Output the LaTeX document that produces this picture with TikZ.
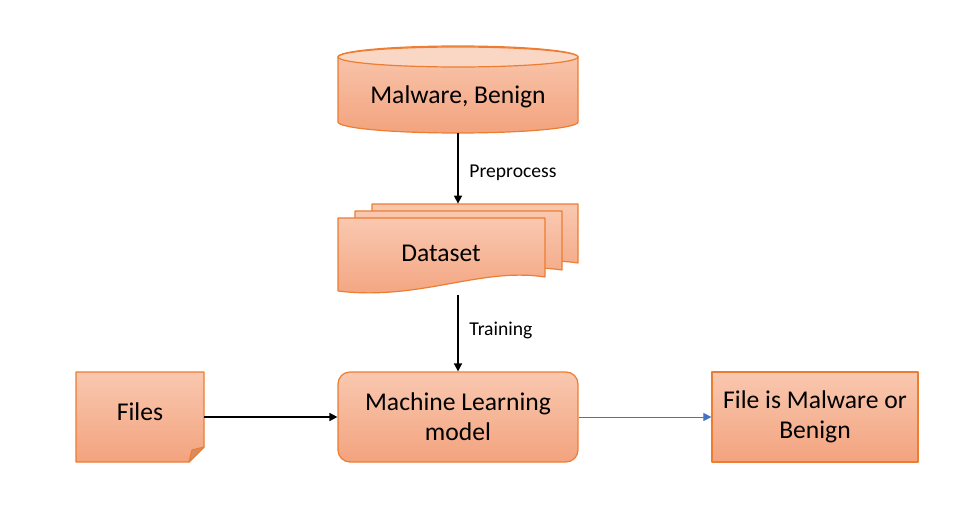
\documentclass[tikz,border=0pt]{standalone}
\usepackage{fontspec}
\setmainfont{Carlito}
\usepackage{xcolor}
\usetikzlibrary{arrows.meta}
\definecolor{shtop}{RGB}{249,200,176}
\definecolor{shbot}{RGB}{243,163,126}
\definecolor{shedge}{RGB}{237,125,49}
\definecolor{shlid}{RGB}{250,214,196}
\definecolor{shfold}{RGB}{214,140,100}
\definecolor{flowblue}{RGB}{68,114,196}

\begin{document}
\begin{tikzpicture}[x=0.5pt,y=0.5pt,>={Triangle[length=4pt,width=4pt]},line join=round,
  part/.style={top color=shtop,bottom color=shbot,draw=shedge,line width=0.6pt},
  boxnode/.style={part,minimum width=#1,minimum height=45pt,align=center,font=\fontsize{12.8}{15}\selectfont},
  ghost/.style={minimum width=#1,minimum height=45pt,inner sep=0pt,font=\fontsize{12.8}{15}\selectfont},
  steplabel/.style={right,xshift=2pt,font=\fontsize{9.8}{11}\selectfont}]
  \useasboundingbox (0,0) rectangle (975,-519);
  % database cylinder
  \path[part] (338,-57) -- (338,-122) arc[start angle=180,end angle=360,x radius=120,y radius=11]
    -- (578,-57) arc[start angle=0,end angle=180,x radius=120,y radius=11] -- cycle;
  \draw[shedge,fill=shlid,line width=0.6pt] (458,-57) ellipse[x radius=120,y radius=10];
  \node[ghost=120pt,minimum height=36pt] (db) at (458,-97) {Malware, Benign};
  % stacked documents
  \path[part] (372,-204) -- (578,-204) -- (578,-263) .. controls (513,-253) and (453,-287) .. (372,-277) -- cycle;
  \path[part] (355,-211) -- (562,-211) -- (562,-270) .. controls (497,-260) and (437,-294) .. (355,-284) -- cycle;
  \path[part] (338,-218) -- (545,-218) -- (545,-277) .. controls (480,-267) and (420,-301) .. (338,-291) -- cycle;
  \node[ghost=120pt,minimum height=45.5pt] (stack) at (458,-249.5) {};
  \node[font=\fontsize{12.8}{15}\selectfont] (dstext) at (441,-253) {Dataset};
  % files sheet
  \path[part] (76,-372) -- (204,-372) -- (204,-447) -- (189,-462) -- (76,-462) -- cycle;
  \draw[shedge,fill=shfold,line width=0.6pt] (204,-447) -- (192,-450) -- (189,-462) -- cycle;
  \node[ghost=64pt] (files) at (140,-417) {\raisebox{5pt}{Files}};
  % model and result
  \node[boxnode=120pt,rounded corners=6pt] (ml) at (458,-417) {Machine Learning\\model};
  \node[boxnode=103pt] (res) at (815,-417) {File is Malware or\\Benign};
  % connectors
  \draw[->,thick] (db.south) -- node[steplabel,yshift=-2pt] {Preprocess} (stack.north);
  \draw[->,thick] (stack.south) -- node[steplabel,yshift=1.5pt] {Training} (ml.north);
  \draw[->,thick] (files.east) -- (ml.west);
  \draw[->,flowblue,line width=0.5pt] (ml.east) -- (res.west);
\end{tikzpicture}
\end{document}
